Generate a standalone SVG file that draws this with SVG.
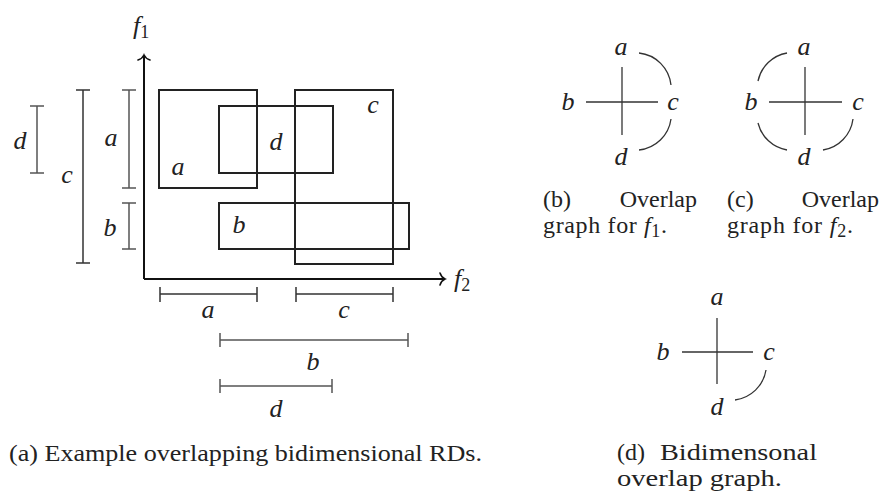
<svg xmlns="http://www.w3.org/2000/svg" width="882" height="493" viewBox="0 0 882 493">
<style>
  .m { font-family: 'Liberation Serif', 'Times New Roman', Times, serif; font-style: italic; font-size: 26px; fill: #222; text-anchor: middle; }
  .cap { font-family: 'Liberation Serif', 'Times New Roman', Times, serif; font-size: 24px; fill: #222; }
  .sub { font-style: normal; font-size: 18px; }
  .rect { fill: none; stroke: #222; stroke-width: 2; }
  .axis { fill: none; stroke: #111; stroke-width: 2; }
  .br { fill: none; stroke: #555; stroke-width: 1.5; }
  .edge { fill: none; stroke: #333; stroke-width: 1.3; }
</style>
<defs>
  <marker id="to" markerUnits="userSpaceOnUse" markerWidth="14" markerHeight="14" refX="0" refY="0" orient="auto" overflow="visible">
    <path d="M-5,-6 C-4,-2.8 -1.8,-0.8 0,0 C-1.8,0.8 -4,2.8 -5,6" fill="none" stroke="#111" stroke-width="1.6" stroke-linecap="round"/>
  </marker>
</defs>
<rect width="882" height="493" fill="#fff"/>

<!-- (a) plot -->
<g id="axes">
  <path class="axis" d="M144,279 L144,55" marker-end="url(#to)"/>
  <path class="axis" d="M144,279 L445,279" marker-end="url(#to)"/>
  <text class="m" x="133" y="34" style="text-anchor:start">f<tspan class="sub" dy="4">1</tspan></text>
  <text class="m" x="454" y="287" style="text-anchor:start">f<tspan class="sub" dy="4">2</tspan></text>
</g>

<g id="rect-a">
  <rect class="rect" x="159" y="90" width="98" height="98"/>
  <text class="m" x="178" y="175">a</text>
</g>
<g id="rect-d">
  <rect class="rect" x="219" y="106" width="114" height="67"/>
  <text class="m" x="276" y="150">d</text>
</g>
<g id="rect-c">
  <rect class="rect" x="295" y="90" width="98" height="174"/>
  <text class="m" x="373" y="113">c</text>
</g>
<g id="rect-b">
  <rect class="rect" x="219" y="203" width="190" height="46"/>
  <text class="m" x="239" y="233">b</text>
</g>

<g id="brackets-f1">
  <path class="br" d="M37,106 V173 M30,106 H44 M30,173 H44"/>
  <text class="m" x="20" y="149">d</text>
  <path class="br" d="M83,90 V263 M76,90 H90 M76,263 H90" style="stroke:#333"/>
  <text class="m" x="67" y="183">c</text>
  <path class="br" d="M129,90 V188 M122,90 H136 M122,188 H136"/>
  <text class="m" x="111" y="146">a</text>
  <path class="br" d="M129,203 V249 M122,203 H136 M122,249 H136"/>
  <text class="m" x="110" y="236">b</text>
</g>

<g id="brackets-f2">
  <path class="br" d="M160,294 H257 M160,287 V302 M257,287 V302" style="stroke:#333"/>
  <text class="m" x="208" y="318">a</text>
  <path class="br" d="M296,294 H393 M296,287 V302 M393,287 V302" style="stroke:#333"/>
  <text class="m" x="344" y="318">c</text>
  <path class="br" d="M220,340 H408 M220,333 V347 M408,333 V347"/>
  <text class="m" x="313" y="370">b</text>
  <path class="br" d="M220,386 H332 M220,379 V393 M332,379 V393"/>
  <text class="m" x="276" y="417">d</text>
</g>

<text class="cap" x="9" y="461" textLength="473" lengthAdjust="spacingAndGlyphs">(a) Example overlapping bidimensional RDs.</text>

<!-- (b) overlap graph for f1 -->
<g id="graph-b">
  <g id="b-connectors">
    <path class="edge" d="M586,102 H658"/>
    <path class="edge" d="M622,67 V135"/>
    <path class="edge" d="M639,53 A36,36 0 0 1 671,85"/>
    <path class="edge" d="M671,119 A36,36 0 0 1 639,150"/>
  </g>
  <g id="b-node-a"><text class="m" x="621" y="55">a</text></g>
  <g id="b-node-b"><text class="m" x="568" y="110">b</text></g>
  <g id="b-node-c"><text class="m" x="673" y="110">c</text></g>
  <g id="b-node-d"><text class="m" x="621" y="165">d</text></g>
</g>
<text class="cap" x="543" y="207">(b)</text>
<text class="cap" x="697" y="207" text-anchor="end">Overlap</text>
<text class="cap" x="543" y="233" textLength="124" lengthAdjust="spacing">graph for <tspan font-style="italic">f</tspan><tspan class="sub" dy="4">1</tspan><tspan dy="-4">.</tspan></text>

<!-- (c) overlap graph for f2 -->
<g id="graph-c">
  <g id="c-connectors">
    <path class="edge" d="M769,102 H842"/>
    <path class="edge" d="M805,67 V135"/>
    <path class="edge" d="M787,53 A36,36 0 0 0 758,81"/>
    <path class="edge" d="M758,123 A36,36 0 0 0 787,150"/>
    <path class="edge" d="M853,119 A36,36 0 0 1 823,150"/>
  </g>
  <g id="c-node-a"><text class="m" x="804" y="55">a</text></g>
  <g id="c-node-b"><text class="m" x="751" y="110">b</text></g>
  <g id="c-node-c"><text class="m" x="858" y="110">c</text></g>
  <g id="c-node-d"><text class="m" x="804" y="165">d</text></g>
</g>
<text class="cap" x="727" y="207">(c)</text>
<text class="cap" x="879" y="207" text-anchor="end">Overlap</text>
<text class="cap" x="727" y="233" textLength="126" lengthAdjust="spacing">graph for <tspan font-style="italic">f</tspan><tspan class="sub" dy="4">2</tspan><tspan dy="-4">.</tspan></text>

<!-- (d) bidimensional overlap graph -->
<g id="graph-d">
  <g id="d-connectors">
    <path class="edge" d="M682,352 H753"/>
    <path class="edge" d="M717,318 V384"/>
    <path class="edge" d="M766,370 A36,36 0 0 1 735,400"/>
  </g>
  <g id="d-node-a"><text class="m" x="717" y="305">a</text></g>
  <g id="d-node-b"><text class="m" x="663" y="360">b</text></g>
  <g id="d-node-c"><text class="m" x="769" y="360">c</text></g>
  <g id="d-node-d"><text class="m" x="717" y="415">d</text></g>
</g>
<text class="cap" x="617" y="460">(d)</text>
<text class="cap" x="660" y="460" textLength="157" lengthAdjust="spacingAndGlyphs">Bidimensonal</text>
<text class="cap" x="617" y="486" textLength="165" lengthAdjust="spacingAndGlyphs">overlap graph.</text>
</svg>
